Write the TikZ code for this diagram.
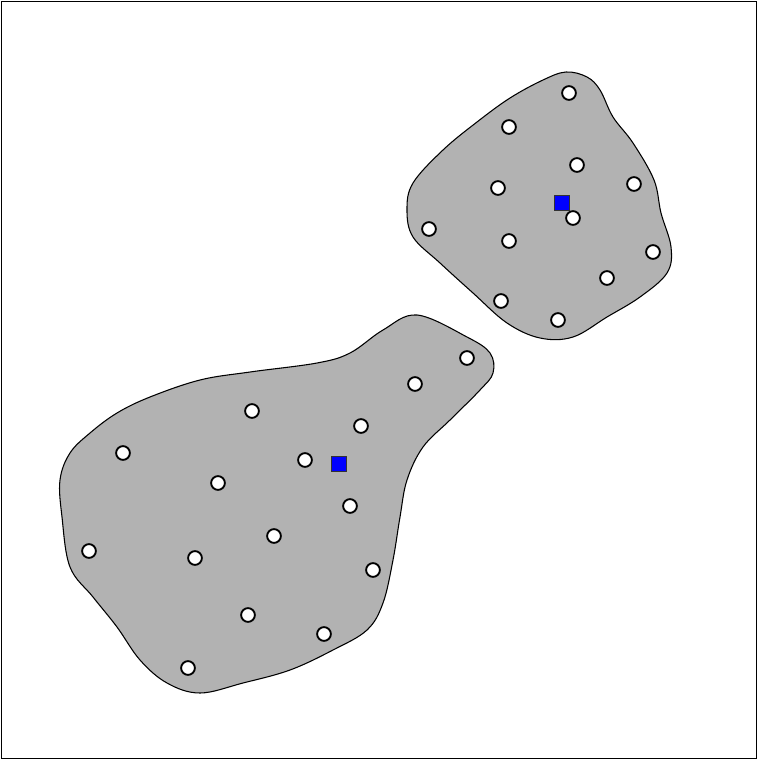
\documentclass[tikz,border=0pt]{standalone}
\begin{document}
\begin{tikzpicture}[x=0.75pt,y=-0.75pt,
  pt/.style={circle,draw=black,fill=white,line width=1.4pt,minimum size=10.3pt,inner sep=0pt},
  ctr/.style={rectangle,draw=black!80,fill=blue,line width=1.1pt,minimum size=11.5pt,inner sep=0pt},
  blob/.style={draw=black,fill=black!30,line width=0.8pt}]
\useasboundingbox (0,0) rectangle (758,760);
\draw[line width=1.2pt] (1.5,1.5) rectangle (756.5,758.5);
% top-right cluster region
\draw[blob] plot[smooth cycle,tension=0.6] coordinates {
 (566,72) (543,80) (510,98) (477,122) (443,150) (413,183) (407,210) (413,237)
 (440,263) (473,293) (507,323) (540,338) (573,337) (607,317) (640,297) (667,273)
 (671,247) (661,213) (654,180) (633,143) (613,117) (600,90) (587,77)};
% bottom-left cluster region
\draw[blob] plot[smooth cycle,tension=0.6] coordinates {
 (417,315) (467,337) (490,353) (493,373) (480,390) (450,420) (423,447) (407,480)
 (400,517) (393,560) (383,603) (367,630) (333,650) (290,670) (243,683) (200,693)
 (167,683) (140,660) (117,627) (93,597) (70,567) (62,517) (60,480) (70,453)
 (90,433) (117,413) (150,397) (200,380) (250,372) (317,363) (350,353) (383,330)};
% top-right points
\node[ctr] (c1) at (562,203) {};
\node[pt] (a1) at (569,93) {};
\node[pt] (a2) at (509,127) {};
\node[pt] (a3) at (577,165) {};
\node[pt] (a4) at (634,184) {};
\node[pt] (a5) at (498,188) {};
\node[pt] (a6) at (573,218) {};
\node[pt] (a7) at (429,229) {};
\node[pt] (a8) at (509,241) {};
\node[pt] (a9) at (653,252) {};
\node[pt] (a10) at (607,278) {};
\node[pt] (a11) at (501,301) {};
\node[pt] (a12) at (558,320) {};
% bottom-left points
\node[pt] (b1) at (467,358) {};
\node[pt] (b2) at (415,384) {};
\node[pt] (b3) at (252,411) {};
\node[pt] (b4) at (361,426) {};
\node[pt] (b5) at (123,453) {};
\node[pt] (b6) at (305,460) {};
\node[pt] (b7) at (218,483) {};
\node[pt] (b8) at (350,506) {};
\node[pt] (b9) at (274,536) {};
\node[pt] (b10) at (89,551) {};
\node[pt] (b11) at (195,558) {};
\node[pt] (b12) at (373,570) {};
\node[pt] (b13) at (248,615) {};
\node[pt] (b14) at (324,634) {};
\node[pt] (b15) at (188,668) {};
\node[ctr] (c2) at (339,464) {};
\end{tikzpicture}
\end{document}
